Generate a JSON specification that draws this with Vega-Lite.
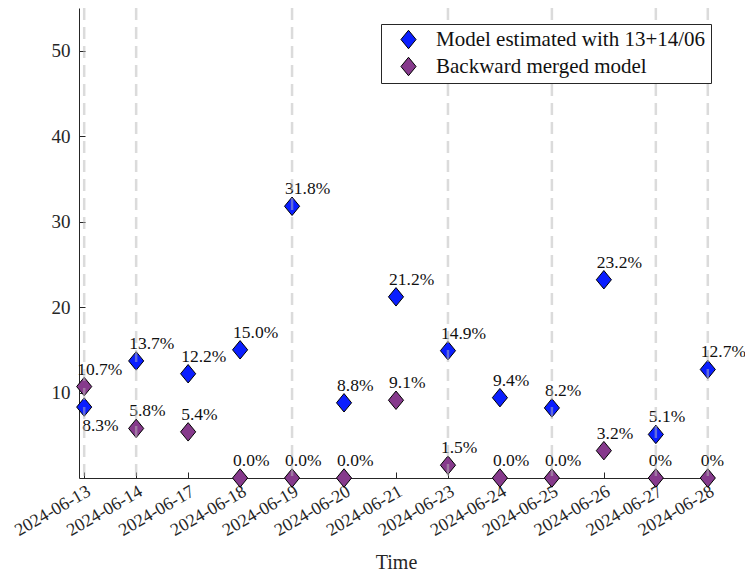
{
  "$schema": "https://vega.github.io/schema/vega-lite/v6.json",
  "width": 634,
  "height": 470,
  "autosize": {"type": "none"},
  "padding": {"left": 79, "top": 8, "right": 32, "bottom": 97},
  "background": "white",
  "config": {
    "view": {"stroke": null},
    "font": "Liberation Serif",
    "axis": {"labelFont": "Liberation Serif", "titleFont": "Liberation Serif", "labelColor": "#262626", "titleColor": "#262626", "domainColor": "#262626", "tickColor": "#262626", "grid": false, "titleFontWeight": "normal"}
  },
  "datasets": {
    "points": [
      {"date": "2024-06-13", "model": "Model estimated with 13+14/06", "value": 8.3, "label": "8.3%"},
      {"date": "2024-06-14", "model": "Model estimated with 13+14/06", "value": 13.7, "label": "13.7%"},
      {"date": "2024-06-17", "model": "Model estimated with 13+14/06", "value": 12.2, "label": "12.2%"},
      {"date": "2024-06-18", "model": "Model estimated with 13+14/06", "value": 15.0, "label": "15.0%"},
      {"date": "2024-06-19", "model": "Model estimated with 13+14/06", "value": 31.8, "label": "31.8%"},
      {"date": "2024-06-20", "model": "Model estimated with 13+14/06", "value": 8.8, "label": "8.8%"},
      {"date": "2024-06-21", "model": "Model estimated with 13+14/06", "value": 21.2, "label": "21.2%"},
      {"date": "2024-06-23", "model": "Model estimated with 13+14/06", "value": 14.9, "label": "14.9%"},
      {"date": "2024-06-24", "model": "Model estimated with 13+14/06", "value": 9.4, "label": "9.4%"},
      {"date": "2024-06-25", "model": "Model estimated with 13+14/06", "value": 8.2, "label": "8.2%"},
      {"date": "2024-06-26", "model": "Model estimated with 13+14/06", "value": 23.2, "label": "23.2%"},
      {"date": "2024-06-27", "model": "Model estimated with 13+14/06", "value": 5.1, "label": "5.1%"},
      {"date": "2024-06-28", "model": "Model estimated with 13+14/06", "value": 12.7, "label": "12.7%"},
      {"date": "2024-06-13", "model": "Backward merged model", "value": 10.7, "label": "10.7%"},
      {"date": "2024-06-14", "model": "Backward merged model", "value": 5.8, "label": "5.8%"},
      {"date": "2024-06-17", "model": "Backward merged model", "value": 5.4, "label": "5.4%"},
      {"date": "2024-06-18", "model": "Backward merged model", "value": 0, "label": "0.0%"},
      {"date": "2024-06-19", "model": "Backward merged model", "value": 0, "label": "0.0%"},
      {"date": "2024-06-20", "model": "Backward merged model", "value": 0, "label": "0.0%"},
      {"date": "2024-06-21", "model": "Backward merged model", "value": 9.1, "label": "9.1%"},
      {"date": "2024-06-23", "model": "Backward merged model", "value": 1.5, "label": "1.5%"},
      {"date": "2024-06-24", "model": "Backward merged model", "value": 0, "label": "0.0%"},
      {"date": "2024-06-25", "model": "Backward merged model", "value": 0, "label": "0.0%"},
      {"date": "2024-06-26", "model": "Backward merged model", "value": 3.2, "label": "3.2%"},
      {"date": "2024-06-27", "model": "Backward merged model", "value": 0, "label": "0%"},
      {"date": "2024-06-28", "model": "Backward merged model", "value": 0, "label": "0%"}
    ],
    "events": [
      {"date": "2024-06-13"},
      {"date": "2024-06-14"},
      {"date": "2024-06-19"},
      {"date": "2024-06-23"},
      {"date": "2024-06-25"},
      {"date": "2024-06-27"},
      {"date": "2024-06-28"}
    ]
  },
  "encoding": {
    "x": {
      "field": "date", "type": "nominal",
      "scale": {"type": "point", "padding": 0.1, "domain": ["2024-06-13","2024-06-14","2024-06-17","2024-06-18","2024-06-19","2024-06-20","2024-06-21","2024-06-23","2024-06-24","2024-06-25","2024-06-26","2024-06-27","2024-06-28"]},
      "axis": {"title": "Time", "titleFontSize": 20, "labelFontSize": 18, "labelAngle": -30, "labelAlign": "right", "labelBaseline": "top", "tickSize": -6, "labelPadding": 10, "titlePadding": 13}
    },
    "y": {
      "field": "value", "type": "quantitative",
      "scale": {"domain": [0, 55], "nice": false, "zero": true},
      "axis": {"title": null, "values": [10, 20, 30, 40, 50], "labelFontSize": 19, "tickSize": -6, "labelPadding": 15}
    }
  },
  "layer": [
    {
      "data": {"name": "points"},
      "mark": {"type": "point", "filled": true, "shape": "M0,-1L0.82,0L0,1L-0.82,0Z", "size": 340, "stroke": "black", "strokeWidth": 1, "opacity": 1, "clip": false},
      "encoding": {
        "color": {
          "field": "model", "type": "nominal",
          "scale": {"domain": ["Model estimated with 13+14/06", "Backward merged model"], "range": ["#0a1eff", "#863a8c"]},
          "legend": {
            "title": null, "orient": "none", "legendX": 302, "legendY": 16,
            "fillColor": "white", "strokeColor": "#262626", "padding": 5,
            "labelFont": "Liberation Serif", "labelFontSize": 21, "labelColor": "#111111",
            "symbolType": "M0,-1L0.82,0L0,1L-0.82,0Z", "symbolSize": 340, "symbolStrokeColor": "black", "symbolStrokeWidth": 1,
            "symbolOpacity": 1, "symbolOffset": 12, "labelOffset": 17, "rowPadding": 4, "labelLimit": 400
          }
        }
      }
    },
    {
      "data": {"name": "points"},
      "transform": [{"filter": "!(datum.date == '2024-06-13' && datum.model == 'Model estimated with 13+14/06')"}],
      "mark": {"type": "text", "align": "left", "baseline": "alphabetic", "dx": -7, "dy": -12, "fontSize": 17.5, "color": "#111111", "font": "Liberation Serif"},
      "encoding": {"text": {"field": "label"}}
    },
    {
      "data": {"name": "points"},
      "transform": [{"filter": "datum.date == '2024-06-13' && datum.model == 'Model estimated with 13+14/06'"}],
      "mark": {"type": "text", "align": "left", "baseline": "top", "dx": -2, "dy": 10, "fontSize": 17.5, "color": "#111111", "font": "Liberation Serif"},
      "encoding": {"text": {"field": "label"}}
    },
    {
      "data": {"name": "events"},
      "mark": {"type": "rule", "color": "#b8b8b8", "opacity": 0.5, "strokeWidth": 2.5, "strokeDash": [12, 7]},
      "encoding": {"y": {"value": 0}, "y2": {"value": 470}}
    }
  ]
}
